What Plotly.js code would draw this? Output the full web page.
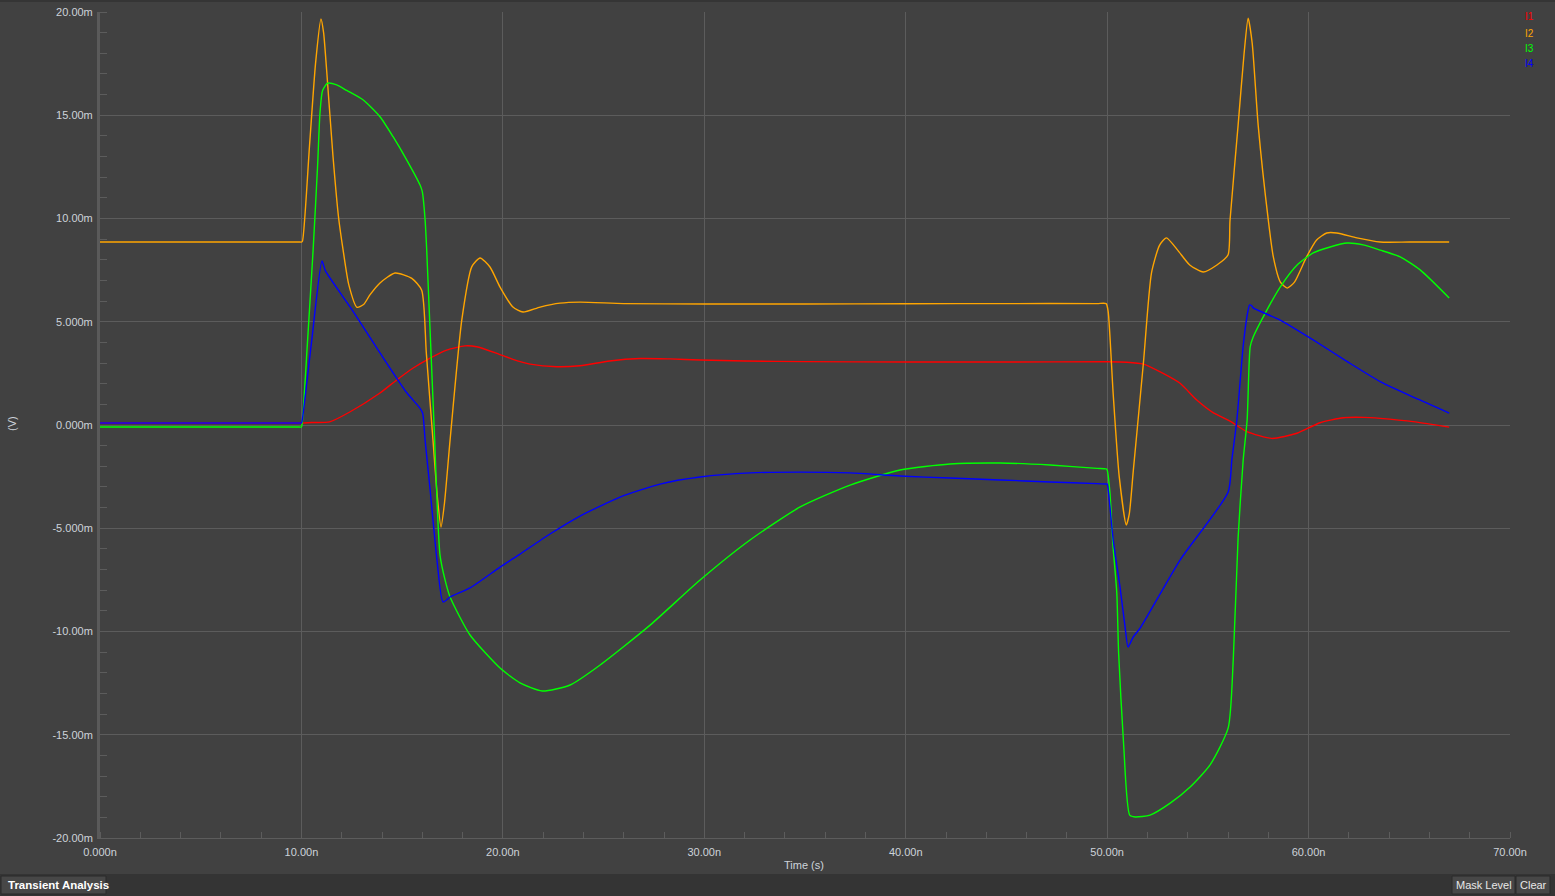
<!DOCTYPE html>
<html>
<head>
<meta charset="utf-8">
<script src="https://cdn.plot.ly/plotly-3.0.1.min.js"></script>
<style>
html,body{margin:0;padding:0;background:#414141;overflow:hidden;}
#chart{width:1555px;height:896px;}
</style>
</head>
<body>
<div id="chart"></div>
<script>
// ---- data (time in ns, current in mA) ----
const seriesNames = ["I1", "I2", "I3", "I4"];
const seriesColors = ["#ff0000", "#ffa500", "#00ff00", "#0000ff"];

const tI1 = [0, 3, 6, 9, 9.7, 10.0, 10.5, 11.4, 12.4, 13.9, 14.73, 15.55, 16.39, 17.21, 18.12, 18.7, 19.7, 20.5, 21.35, 22.68, 23.83, 25.3, 26.8, 28.3, 29.8, 32, 35, 40, 45, 50.0, 50.98, 51.8, 52.78, 53.62, 54.45, 55.26, 56.1, 56.94, 58.18, 59.42, 60.57, 61.73, 62.73, 63.56, 65.29, 66.98];
const vI1 = [0.1, 0.1, 0.1, 0.1, 0.1, 0.1, 0.12, 0.15, 0.63, 1.55, 2.18, 2.76, 3.24, 3.63, 3.83, 3.79, 3.47, 3.18, 2.95, 2.82, 2.87, 3.1, 3.22, 3.2, 3.15, 3.1, 3.07, 3.05, 3.05, 3.06, 3.04, 2.95, 2.5, 2.02, 1.21, 0.6, 0.19, -0.32, -0.65, -0.4, 0.11, 0.35, 0.37, 0.32, 0.15, -0.1];

const tI2 = [0, 3, 6, 9, 9.7, 9.9, 10.0, 10.05, 10.4, 10.7, 10.97, 11.1, 11.25, 11.57, 11.85, 12.07, 12.35, 12.76, 13.1, 13.4, 13.9, 14.65, 15.48, 15.97, 16.2, 16.53, 16.75, 16.93, 17.1, 17.38, 17.96, 18.46, 18.87, 19.36, 19.86, 20.5, 21.0, 21.85, 22.84, 23.83, 26, 30, 35, 40, 45, 49.5, 49.95, 50.05, 50.3, 50.6, 50.95, 51.1, 51.3, 51.8, 52.2, 52.6, 52.94, 53.5, 54.1, 54.77, 55.45, 56.0, 56.1, 56.5, 56.8, 57.0, 57.2, 57.5, 58.0, 58.25, 58.6, 58.94, 59.3, 59.9, 60.4, 60.9, 61.4, 62.4, 63.55, 65, 66.98];
const vI2 = [8.86, 8.86, 8.86, 8.86, 8.86, 8.86, 8.86, 8.9, 13.5, 17.5, 19.66, 19.0, 17.2, 12.98, 10.0, 8.47, 6.8, 5.7, 5.85, 6.3, 6.88, 7.36, 7.1, 6.53, 3.5, -0.73, -3.5, -4.94, -3.8, -0.73, 5.08, 7.67, 8.09, 7.65, 6.68, 5.71, 5.47, 5.71, 5.9, 5.95, 5.88, 5.86, 5.86, 5.87, 5.88, 5.88, 5.88, 5.5, 1.5, -2.5, -4.84, -4.3, -2.2, 3.0, 7.36, 8.7, 9.06, 8.47, 7.75, 7.41, 7.75, 8.23, 9.9, 14.5, 18.0, 19.7, 18.5, 14.5, 9.93, 8.14, 6.92, 6.63, 6.92, 8.14, 8.96, 9.3, 9.3, 9.06, 8.86, 8.86, 8.86];

const tI3 = [0, 3, 6, 9, 9.7, 9.9, 10.0, 10.05, 10.3, 10.58, 10.8, 10.92, 11.05, 11.3, 11.75, 12.25, 13.07, 13.9, 14.55, 15.23, 15.89, 16.0, 16.14, 16.22, 16.6, 16.88, 17.13, 17.38, 18.37, 19.86, 20.85, 21.95, 23.34, 24.83, 27.31, 29.79, 32.27, 34.76, 37.24, 39.72, 42.2, 44.69, 47.17, 49.5, 49.95, 50.0, 50.14, 50.28, 50.48, 50.57, 50.82, 51.12, 51.39, 52.13, 53.13, 54.12, 55.11, 56.01, 56.26, 56.5, 56.75, 56.95, 57.1, 57.25, 57.85, 58.59, 59.43, 60.23, 61.07, 61.92, 62.71, 63.56, 64.55, 65.54, 66.98];
const vI3 = [-0.1, -0.1, -0.1, -0.1, -0.1, -0.1, -0.1, 0.2, 4.0, 8.47, 12.5, 15.1, 16.2, 16.55, 16.47, 16.2, 15.74, 14.93, 13.96, 12.83, 11.62, 11.3, 9.93, 8.47, -0.4, -6.3, -7.5, -8.33, -10.17, -11.77, -12.49, -12.88, -12.59, -11.62, -9.69, -7.51, -5.57, -3.97, -2.91, -2.18, -1.89, -1.84, -1.94, -2.1, -2.13, -2.18, -3.29, -5.71, -8.14, -11.04, -15.5, -18.89, -18.98, -18.89, -18.31, -17.53, -16.46, -14.67, -11.38, -5.5, -1.74, 0.24, 3.78, 4.26, 5.42, 6.68, 7.75, 8.33, 8.62, 8.81, 8.72, 8.47, 8.14, 7.51, 6.15];

const tI4 = [0, 3, 6, 9, 9.7, 9.9, 10.0, 10.05, 10.5, 11.02, 11.2, 12.5, 13.9, 15.2, 15.89, 16.02, 16.14, 16.39, 16.73, 17.03, 17.38, 18.37, 19.86, 20.85, 22.34, 23.83, 25.82, 27.8, 29.79, 32.27, 34.76, 37.24, 39.72, 42.2, 44.69, 47.17, 49.5, 49.95, 50.0, 50.14, 50.3, 50.64, 50.89, 51.04, 51.29, 51.64, 53.62, 56.01, 56.19, 56.44, 56.75, 56.94, 57.07, 57.19, 57.25, 58.59, 60.23, 61.92, 63.56, 65.29, 66.98];
const vI4 = [0.1, 0.1, 0.1, 0.1, 0.1, 0.1, 0.1, 0.3, 4.0, 7.94, 7.45, 5.6, 3.49, 1.6, 0.81, 0.57, -0.73, -3.15, -6.54, -8.57, -8.33, -7.89, -6.88, -6.25, -5.28, -4.41, -3.49, -2.86, -2.52, -2.32, -2.28, -2.32, -2.47, -2.57, -2.66, -2.76, -2.84, -2.86, -2.86, -3.97, -5.57, -7.85, -9.78, -10.75, -10.27, -9.83, -6.54, -3.24, -1.69, 0.24, 3.79, 5.24, 5.81, 5.76, 5.67, 5.08, 4.12, 3.07, 2.1, 1.31, 0.58];

const xTickVals = [0, 10, 20, 30, 40, 50, 60, 70];
const xTickText = ["0.000n", "10.00n", "20.00n", "30.00n", "40.00n", "50.00n", "60.00n", "70.00n"];
const yTickVals = [20, 15, 10, 5, 0, -5, -10, -15, -20];
const yTickText = ["20.00m", "15.00m", "10.00m", "5.000m", "0.000m", "-5.000m", "-10.00m", "-15.00m", "-20.00m"];

// ---- build ----
const xs = [tI1, tI2, tI3, tI4];
const ys = [vI1, vI2, vI3, vI4];
const traces = seriesNames.map((n, k) => ({
  type: 'scatter', mode: 'lines', name: n,
  x: xs[k], y: ys[k],
  line: {color: seriesColors[k], width: 1.4, shape: 'spline', smoothing: 0.6},
  hoverinfo: 'skip'
}));

const L = 100, R = 1510, T = 12, B = 838;
const px = v => (v - L) / (R - L);
const py = v => (B - v) / (B - T);

const labelFont = {family: 'Liberation Sans, Arial, sans-serif', size: 11, color: '#cdd3da'};

const annotations = [
  {text: 'Time (s)', x: px(804), y: py(865), xref: 'paper', yref: 'paper', showarrow: false, xanchor: 'center', yanchor: 'middle', font: labelFont},
  {text: '(V)', x: px(12), y: py(424), xref: 'paper', yref: 'paper', showarrow: false, xanchor: 'center', yanchor: 'middle', textangle: -90, font: labelFont},
  {text: '<b>Transient Analysis</b>', x: px(6), y: py(885), xref: 'paper', yref: 'paper', showarrow: false, xanchor: 'left', yanchor: 'middle', font: {family: 'Liberation Sans, Arial, sans-serif', size: 11.5, color: '#ffffff'}},
  {text: 'Mask Level', x: px(1483.5), y: py(885), xref: 'paper', yref: 'paper', showarrow: false, xanchor: 'center', yanchor: 'middle', font: {family: 'Liberation Sans, Arial, sans-serif', size: 11, color: '#e8e8e8'}},
  {text: 'Clear', x: px(1533), y: py(885), xref: 'paper', yref: 'paper', showarrow: false, xanchor: 'center', yanchor: 'middle', font: {family: 'Liberation Sans, Arial, sans-serif', size: 11, color: '#e8e8e8'}}
];
const legendY = [17, 33, 48, 64];
seriesNames.map((n, k) => annotations.push({
  text: n, x: px(1523), y: py(legendY[k]), xref: 'paper', yref: 'paper', showarrow: false,
  xanchor: 'left', yanchor: 'middle', font: {family: 'Liberation Sans, Arial, sans-serif', size: 10, color: seriesColors[k]}
}));

const shapes = [
  {type: 'rect', xref: 'paper', yref: 'paper', x0: px(0), x1: px(1555), y0: py(874), y1: py(896), fillcolor: '#343434', line: {width: 0}, layer: 'below'},
  {type: 'rect', xref: 'paper', yref: 'paper', x0: px(1), x1: px(106), y0: py(876), y1: py(894), fillcolor: '#474747', line: {color: '#2a2a2a', width: 1}, layer: 'below'},
  {type: 'rect', xref: 'paper', yref: 'paper', x0: px(1452), x1: px(1515), y0: py(876), y1: py(894), fillcolor: '#474747', line: {color: '#2a2a2a', width: 1}, layer: 'below'},
  {type: 'rect', xref: 'paper', yref: 'paper', x0: px(1516), x1: px(1550), y0: py(876), y1: py(894), fillcolor: '#474747', line: {color: '#2a2a2a', width: 1}, layer: 'below'},
  {type: 'rect', xref: 'paper', yref: 'paper', x0: px(0), x1: px(1555), y0: py(0), y1: py(2), fillcolor: '#353535', line: {width: 0}, layer: 'below'}
];

const layout = {
  width: 1555, height: 896,
  paper_bgcolor: '#414141', plot_bgcolor: '#414141',
  margin: {l: L, r: 1555 - R, t: T, b: 896 - B},
  showlegend: false,
  font: labelFont,
  xaxis: {
    range: [0, 70], tickvals: xTickVals, ticktext: xTickText,
    showgrid: true, gridcolor: '#5c5c5c', gridwidth: 1, zeroline: false,
    ticks: '', showline: true, linecolor: '#5c5c5c', linewidth: 1,
    tickfont: labelFont, ticklabelstandoff: 4,
    minor: {dtick: 2, ticks: 'inside', ticklen: 6, tickcolor: '#5c5c5c', tickwidth: 1, showgrid: false}
  },
  yaxis: {
    range: [-20, 20], tickvals: yTickVals, ticktext: yTickText,
    showgrid: true, gridcolor: '#5c5c5c', gridwidth: 1, zeroline: false,
    ticks: '', showline: true, linecolor: '#5a5a5a', linewidth: 3,
    tickfont: labelFont, ticklabelstandoff: 2,
    minor: {dtick: 1, ticks: 'inside', ticklen: 7, tickcolor: '#5c5c5c', tickwidth: 1, showgrid: false}
  },
  annotations: annotations,
  shapes: shapes
};

Plotly.newPlot('chart', traces, layout, {displayModeBar: false, staticPlot: true});
</script>
</body>
</html>
